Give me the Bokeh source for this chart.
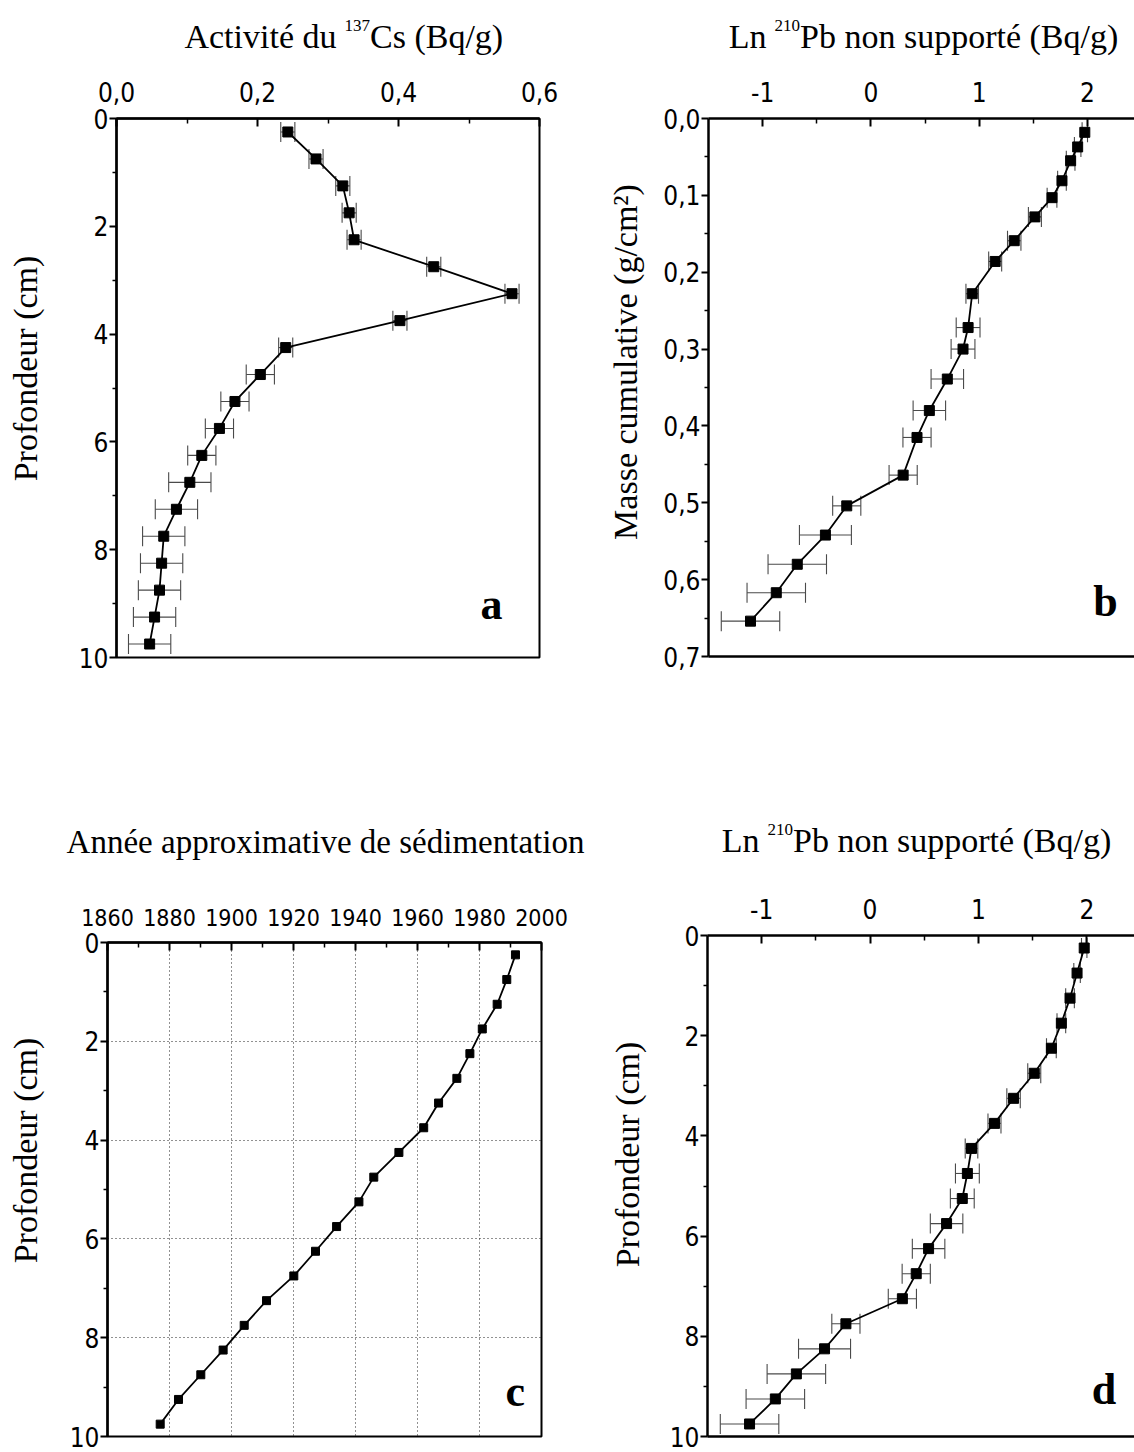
import math

from bokeh.embed import file_html
from bokeh.layouts import column, row
from bokeh.models import (ColumnDataSource, CustomJSTickFormatter, FixedTicker,
                          Label, LinearAxis, Range1d, TeeHead, Whisker)
from bokeh.plotting import figure
from bokeh.resources import INLINE

# ---------------------------------------------------------------- data
# mid-depth of each 0.5 cm slice (cm)
depth_cm = [0.25, 0.75, 1.25, 1.75, 2.25, 2.75, 3.25, 3.75, 4.25, 4.75,
            5.25, 5.75, 6.25, 6.75, 7.25, 7.75, 8.25, 8.75, 9.25, 9.75]

# 137Cs activity (Bq/g) and its uncertainty
cs137 = [0.243, 0.283, 0.321, 0.330, 0.337, 0.450, 0.561, 0.402, 0.240, 0.204,
         0.168, 0.146, 0.121, 0.104, 0.085, 0.067, 0.064, 0.061, 0.054, 0.047]
cs137_err = [0.01, 0.01, 0.01, 0.01, 0.01, 0.01, 0.01, 0.01, 0.01, 0.02,
             0.02, 0.02, 0.02, 0.03, 0.03, 0.03, 0.03, 0.03, 0.03, 0.03]

# ln of unsupported 210Pb activity (Bq/g) and its uncertainty
ln_pb210 = [1.976, 1.910, 1.845, 1.765, 1.673, 1.515, 1.324, 1.148, 0.936, 0.898,
            0.851, 0.706, 0.540, 0.426, 0.298, -0.223, -0.420, -0.680, -0.874, -1.112]
ln_pb210_err = [0.025, 0.03, 0.04, 0.04, 0.045, 0.06, 0.062, 0.06, 0.058, 0.11,
                0.11, 0.15, 0.15, 0.13, 0.13, 0.13, 0.24, 0.27, 0.27, 0.27]

# cumulative dry mass (g/cm2)
mass_cum = [0.018, 0.037, 0.055, 0.081, 0.103, 0.128, 0.159, 0.186, 0.228, 0.272,
            0.300, 0.339, 0.380, 0.415, 0.464, 0.504, 0.542, 0.580, 0.617, 0.654]

# approximate year of deposition
sed_year = [1991.6, 1988.8, 1985.7, 1980.9, 1976.9, 1972.7, 1966.8, 1962.0, 1954.0, 1945.9,
            1941.1, 1933.9, 1927.1, 1920.1, 1911.3, 1904.1, 1897.3, 1890.1, 1882.9, 1877.0]

# axis ticks
cs_ticks, cs_minor = [0.0, 0.2, 0.4, 0.6], [0.1, 0.3, 0.5]
ln_ticks, ln_minor = [-1, 0, 1, 2], [-0.5, 0.5, 1.5]
depth_ticks, depth_minor = [0, 2, 4, 6, 8, 10], [1, 3, 5, 7, 9]
mass_ticks = [0.0, 0.1, 0.2, 0.3, 0.4, 0.5, 0.6, 0.7]
mass_minor = [0.05, 0.15, 0.25, 0.35, 0.45, 0.55, 0.65]
year_ticks = [1860, 1880, 1900, 1920, 1940, 1960, 1980, 2000]
year_minor = [1870, 1890, 1910, 1930, 1950, 1970, 1990]

# ---------------------------------------------------------------- style
SERIF = "Liberation Serif"
SANS = "'DejaVu Sans Condensed', 'Liberation Sans'"
TITLE_PX = 34
SUP_PX = 17
LETTER_PX = 44
TICK_SIZE = "26px"
AXIS_W = 2.5
LEFT_W, RIGHT_W = 590, 544
DROP = 0.32  # rendered baseline sits this many ems below a Label's anchor


def comma_fmt():
    return CustomJSTickFormatter(code="return tick.toFixed(1).replace('.', ',')")


def int_fmt():
    return CustomJSTickFormatter(code="return tick.toFixed(0)")


def panel(width, height, xr, yr, left, right, top, bottom, boxed):
    p = figure(width=width, height=height, x_range=Range1d(*xr), y_range=Range1d(*yr),
               x_axis_location="above", output_backend="svg", toolbar_location=None,
               title=None, min_border_left=left, min_border_right=right,
               min_border_top=top, min_border_bottom=bottom)
    p.background_fill_color = "white"
    p.border_fill_color = "white"
    p.xgrid.visible = False
    p.ygrid.visible = False
    if boxed:
        p.outline_line_color = "black"
        p.outline_line_width = 2
    else:
        p.outline_line_color = None
        base = LinearAxis(ticker=FixedTicker(ticks=[]), major_tick_out=0, major_tick_in=0,
                          minor_tick_out=0, minor_tick_in=0, major_label_standoff=0,
                          major_label_text_font_size="0px",
                          axis_line_width=AXIS_W, axis_line_color="black")
        p.add_layout(base, "below")

    xa = p.xaxis[0]
    xa.major_tick_in, xa.major_tick_out = 8, 0
    xa.minor_tick_in, xa.minor_tick_out = 5, 0
    xa.major_label_standoff = 17
    ya = p.yaxis[0]
    ya.major_tick_in, ya.major_tick_out = 0, 7
    ya.minor_tick_in, ya.minor_tick_out = 0, 4
    ya.major_label_standoff = 1
    ya.formatter = int_fmt()
    for ax in (xa, ya):
        ax.axis_line_width = AXIS_W
        ax.axis_line_color = "black"
        ax.major_tick_line_width = 2
        ax.minor_tick_line_width = 1.5
        ax.major_tick_line_color = "black"
        ax.minor_tick_line_color = "black"
        ax.major_label_text_font = SANS
        ax.major_label_text_font_size = TICK_SIZE
        ax.major_label_text_color = "black"
    return p


def add_profile(p, xs, ys, err=None, size=10):
    if err is not None:
        src = ColumnDataSource(dict(y=ys,
                                    lo=[v - e for v, e in zip(xs, err)],
                                    hi=[v + e for v, e in zip(xs, err)]))
        p.add_layout(Whisker(source=src, base="y", lower="lo", upper="hi",
                             dimension="width", line_color="#4a4a4a", line_width=1.1,
                             upper_head=TeeHead(size=20, line_color="#4a4a4a", line_width=1.1),
                             lower_head=TeeHead(size=20, line_color="#4a4a4a", line_width=1.1)))
    p.line(xs, ys, line_color="black", line_width=1.8)
    p.scatter(xs, ys, marker="square", size=size, color="black")


def add_letter(p, x, y, text):
    p.add_layout(Label(x=x, y=y, text=text, text_font=SERIF,
                       text_font_size=f"{LETTER_PX}px", text_font_style="bold",
                       text_align="center", text_baseline="alphabetic", text_color="black"))


def strip(x0, width, y0, height, top=0, bottom=0):
    # blank band whose ranges are page pixel coordinates (y grows downward);
    # top/bottom borders mirror those of the neighbouring panel
    s = figure(width=width, height=height, x_range=Range1d(x0, x0 + width),
               y_range=Range1d(y0 + height - bottom, y0 + top),
               x_axis_location=None, y_axis_location=None, output_backend="svg",
               toolbar_location=None, title=None, min_border_left=0, min_border_right=0,
               min_border_top=top, min_border_bottom=bottom)
    s.outline_line_color = None
    s.background_fill_color = "white"
    s.border_fill_color = "white"
    for g in s.grid:
        g.visible = False
    return s


def strip_text(s, x, baseline, text, px=TITLE_PX, align="left", angle=0.0):
    # place text so that its baseline lands on `baseline`
    if angle:
        x, y = baseline - DROP * px, x
    else:
        y = baseline - DROP * px
    s.add_layout(Label(x=x, y=y, text=text, text_font=SERIF, text_font_size=f"{px}px",
                       text_align=align, text_baseline="alphabetic",
                       text_color="black", angle=angle))


def sup_title(s, sup_x, baseline, before, sup, after, gap=8):
    # "before" + raised small "sup" + "after", joined at the superscript
    sup_w = 0.5 * SUP_PX * len(sup)
    strip_text(s, sup_x - gap, baseline, before, align="right")
    strip_text(s, sup_x, baseline - 16.2, sup, px=SUP_PX)
    strip_text(s, sup_x + sup_w, baseline, after)


def side_title(x0, width, y0, height, top, bottom, baseline_x, center_y, text):
    s = strip(x0, width, y0, height, top, bottom)
    strip_text(s, center_y, baseline_x, text, align="center", angle=math.pi / 2)
    return s


# ---------------------------------------------------------------- (a) 137Cs
ta = strip(0, LEFT_W, 0, 62)
sup_title(ta, 344, 46.7, "Activité du", "137", "Cs (Bq/g)")
sa = side_title(0, 60, 62, 698, 56, 103, 36, 368, "Profondeur (cm)")
pa = panel(LEFT_W - 60, 698, (0.0, 0.6), (10, 0), 56, 51, 56, 103, boxed=True)
pa.xaxis[0].ticker = FixedTicker(ticks=cs_ticks, minor_ticks=cs_minor)
pa.xaxis[0].formatter = comma_fmt()
pa.yaxis[0].ticker = FixedTicker(ticks=depth_ticks, minor_ticks=depth_minor)
add_profile(pa, cs137, depth_cm, cs137_err)
add_letter(pa, 0.532, 9.02, "a")

# ---------------------------------------------------------------- (b) 210Pb vs mass
tb = strip(LEFT_W, RIGHT_W, 0, 62)
sup_title(tb, 774, 46.7, "Ln", "210", "Pb  non supporté (Bq/g)")
sb = side_title(LEFT_W, 62, 62, 698, 56, 104, 636, 361.5, "Masse cumulative (g/cm²)")
pb = panel(RIGHT_W - 62, 698, (-1.5, 2.435), (0.7, 0.0), 56, 0, 56, 104, boxed=False)
pb.xaxis[0].ticker = FixedTicker(ticks=ln_ticks, minor_ticks=ln_minor)
pb.xaxis[0].formatter = int_fmt()
pb.yaxis[0].ticker = FixedTicker(ticks=mass_ticks, minor_ticks=mass_minor)
pb.yaxis[0].formatter = comma_fmt()
add_profile(pb, ln_pb210, mass_cum, ln_pb210_err)
add_letter(pb, 2.166, 0.628, "b")

# ---------------------------------------------------------------- (c) chronology
tc = strip(0, LEFT_W, 760, 120)
strip_text(tc, 325, 852, "Année approximative de sédimentation", px=33, align="center")
sc = side_title(0, 60, 880, 572, 62, 16, 36, 1150, "Profondeur (cm)")
pc = panel(LEFT_W - 60, 572, (1860, 2000), (10, 0), 47, 49, 62, 16, boxed=True)
pc.xaxis[0].ticker = FixedTicker(ticks=year_ticks, minor_ticks=year_minor)
pc.xaxis[0].formatter = int_fmt()
pc.xaxis[0].major_label_text_font_size = "23px"
pc.yaxis[0].ticker = FixedTicker(ticks=depth_ticks, minor_ticks=depth_minor)
for g in (pc.xgrid[0], pc.ygrid[0]):
    g.visible = True
    g.grid_line_color = "#222222"
    g.grid_line_width = 1
    g.grid_line_dash = "1 3"
add_profile(pc, sed_year, depth_cm, None, size=8)
add_letter(pc, 1991.5, 9.095, "c")

# ---------------------------------------------------------------- (d) 210Pb vs depth
td = strip(LEFT_W, RIGHT_W, 760, 120)
sup_title(td, 767, 851, "Ln", "210", "Pb  non supporté (Bq/g)")
sd = side_title(LEFT_W, 62, 880, 572, 55, 16, 638, 1154, "Profondeur (cm)")
pd_ = panel(RIGHT_W - 62, 572, (-1.5, 2.44), (10, 0), 55, 0, 55, 16, boxed=False)
pd_.xaxis[0].ticker = FixedTicker(ticks=ln_ticks, minor_ticks=ln_minor)
pd_.xaxis[0].formatter = int_fmt()
pd_.yaxis[0].ticker = FixedTicker(ticks=depth_ticks, minor_ticks=depth_minor)
add_profile(pd_, ln_pb210, depth_cm, ln_pb210_err)
add_letter(pd_, 2.158, 9.066, "d")

left = column(ta, row(sa, pa), tc, row(sc, pc))
right = column(tb, row(sb, pb), td, row(sd, pd_))
layout = row(left, right)

with open("out.html", "w") as f:
    f.write(file_html(layout, INLINE))
